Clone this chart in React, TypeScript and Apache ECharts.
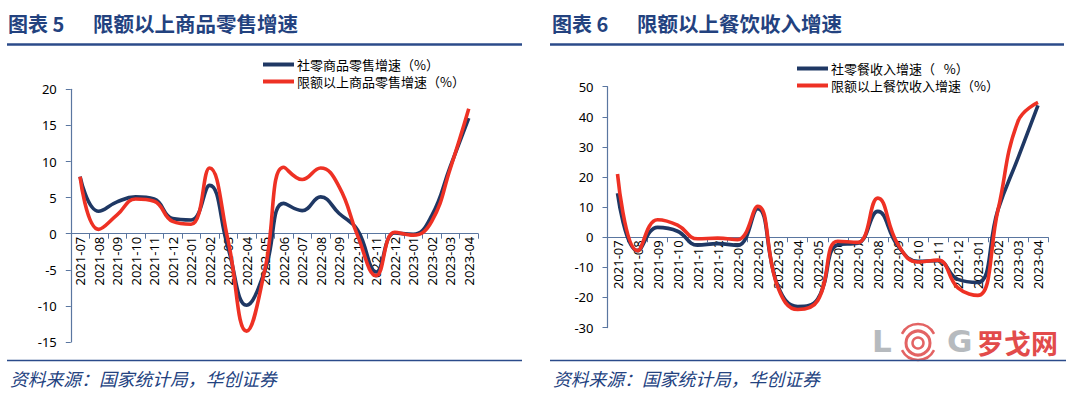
import React, { useEffect, useRef } from "react";
import * as echarts from "echarts";

const categories = [
  "2021-07", "2021-08", "2021-09", "2021-10", "2021-11", "2021-12",
  "2022-01", "2022-02", "2022-03", "2022-04", "2022-05", "2022-06",
  "2022-07", "2022-08", "2022-09", "2022-10", "2022-11", "2022-12",
  "2023-01", "2023-02", "2023-03", "2023-04",
];

const retailGoods = [7.9, 3.1, 4.4, 5.1, 4.8, 2.1, 1.9, 6.7, -2.0, -9.9, -5.0, 4.2, 3.2, 5.1, 2.8, 0.5, -5.3, 0.1, -0.1, 2.5, 9.3, 16.0];
const retailGoodsAbove = [7.9, 0.6, 2.6, 4.8, 4.5, 1.7, 1.3, 9.1, -1.0, -13.5, -4.8, 9.2, 7.5, 9.1, 6.5, -0.3, -5.8, 0.2, -0.2, 1.7, 9.0, 17.3];

const catering = [14.6, -4.5, 3.3, 2.0, -2.6, -2.1, -2.7, 9.5, -16.0, -23.0, -20.5, -2.5, -2.0, 8.6, -2.8, -8.0, -7.8, -14.0, -15.0, 9.1, 26.3, 43.8];
const cateringAbove = [21.0, -4.5, 5.8, 4.0, -0.5, -0.3, -0.8, 10.3, -16.5, -24.0, -21.0, -1.3, -1.7, 13.0, -2.3, -8.2, -7.6, -16.8, -19.3, 9.0, 38.5, 44.8];

const leftNames = ["社零商品零售增速（%）", "限额以上商品零售增速（%）"];
const rightNames = ["社零餐收入增速（   %）", "限额以上餐饮收入增速（%）"];

const NAVY = "#1F3864";
const RED = "#EE3124";
const AXIS = "#5A76A0";
const TITLE = "#23427F";
const FONT = '"Noto Sans", "Noto Sans CJK SC", sans-serif';
const CJK = '"Noto Sans CJK SC", sans-serif';
const LATIN = '"DejaVu Sans", "Liberation Sans", sans-serif';

export default function App() {
  const ref = useRef<HTMLDivElement>(null);

  useEffect(() => {
    if (!ref.current) return;
    const chart = echarts.init(ref.current, undefined, { renderer: "svg" });

    const yAxisBase = (min: number, max: number, interval: number, gridIndex: number) => ({
      type: "value" as const,
      gridIndex,
      min,
      max,
      interval,
      splitLine: { show: false },
      axisLine: { show: true, lineStyle: { color: AXIS, width: 1.2 } },
      axisTick: { show: true, length: 5, lineStyle: { color: AXIS } },
      axisLabel: { color: "#000", fontSize: 13, fontFamily: FONT, margin: 14 },
    });

    // offset places the category axis on the zero line of its value axis
    const xAxisBase = (gridIndex: number, offset: number) => ({
      type: "category" as const,
      gridIndex,
      data: categories,
      boundaryGap: true,
      position: "bottom" as const,
      offset,
      axisLine: { show: true, onZero: false, lineStyle: { color: AXIS, width: 1.2 } },
      axisTick: { show: true, length: 5, lineStyle: { color: AXIS } },
      axisLabel: { color: "#000", fontSize: 13, fontFamily: FONT, rotate: 90, margin: 3, interval: 0 },
    });

    const lineSeries = (name: string, data: number[], color: string, idx: number) => ({
      type: "line" as const,
      name,
      data,
      xAxisIndex: idx,
      yAxisIndex: idx,
      smooth: 0.45,
      symbol: "none",
      color,
      lineStyle: { color, width: 3.6 },
      z: color === RED ? 3 : 2,
    });

    const legendBase = (names: string[], left: number, top: number) => ({
      data: names,
      orient: "vertical" as const,
      left,
      top,
      icon: "rect",
      itemWidth: 31,
      itemHeight: 4,
      itemGap: 4,
      padding: 0,
      textStyle: { color: "#000", fontSize: 13, fontFamily: CJK, padding: [0, 0, 0, -2] },
    });

    const txt = (text: string, x: number, y: number, fill: string, size: number, family: string, weight = "normal", style = "normal") => ({
      type: "text",
      x,
      y,
      style: { text, fill, fontSize: size, fontFamily: family, fontWeight: weight, fontStyle: style, verticalAlign: "middle", align: "left" },
    });

    const WM_RED = "#E36363";
    const WM_GRAY = "#B6BABE";
    const watermark = [
      txt("L", 872, 341, WM_GRAY, 31, LATIN, "bold"),
      { type: "arc", shape: { cx: 918, cy: 342, r: 18, startAngle: Math.PI * 1.15, endAngle: Math.PI * 1.85 }, style: { stroke: WM_RED, lineWidth: 2.5, fill: "none" } },
      { type: "arc", shape: { cx: 918, cy: 342, r: 18, startAngle: Math.PI * 0.15, endAngle: Math.PI * 0.85 }, style: { stroke: WM_RED, lineWidth: 2.5, fill: "none" } },
      { type: "circle", shape: { cx: 918, cy: 343, r: 12 }, style: { stroke: WM_RED, lineWidth: 3, fill: "none" } },
      { type: "circle", shape: { cx: 918, cy: 343, r: 5.5 }, style: { stroke: WM_RED, lineWidth: 2.5, fill: "none" } },
      txt("G", 947, 341, WM_GRAY, 31, LATIN, "bold"),
      txt("罗戈网", 977, 342, "#E24B4B", 27, CJK, "bold"),
    ];

    const graphics: any[] = [
      txt("图表 5", 8, 23, TITLE, 20, CJK, "bold"),
      txt("限额以上商品零售增速", 93, 23, TITLE, 20.5, CJK, "bold"),
      txt("图表 6", 552, 23, TITLE, 20, CJK, "bold"),
      txt("限额以上餐饮收入增速", 637, 23, TITLE, 20.5, CJK, "bold"),
      { type: "line", shape: { x1: 7, y1: 44.5, x2: 522, y2: 44.5 }, style: { stroke: "#2B4B8A", lineWidth: 2.5 } },
      { type: "line", shape: { x1: 550, y1: 44.5, x2: 1064, y2: 44.5 }, style: { stroke: "#2B4B8A", lineWidth: 2.5 } },
      ...watermark,
      { type: "line", shape: { x1: 7, y1: 360.5, x2: 522, y2: 360.5 }, style: { stroke: "#2B4B8A", lineWidth: 1.5 } },
      { type: "line", shape: { x1: 550, y1: 360.5, x2: 1066, y2: 360.5 }, style: { stroke: "#2B4B8A", lineWidth: 1.5 } },
      txt("资料来源：国家统计局，华创证券", 10, 378, TITLE, 17.8, CJK, "normal", "italic"),
      txt("资料来源：国家统计局，华创证券", 553, 378, TITLE, 17.8, CJK, "normal", "italic"),
    ];

    const leftTop = 89.3, leftBottom = 54;
    const rightTop = 86.7, rightBottom = 68.4;
    const leftH = 396 - leftTop - leftBottom;
    const rightH = 396 - rightTop - rightBottom;
    const leftOffset = -leftH * (15 / 35);
    const rightOffset = -rightH * (30 / 80);

    chart.setOption({
      animation: false,
      backgroundColor: "#fff",
      grid: [
        { left: 70.8, right: 602, top: leftTop, bottom: leftBottom, containLabel: false },
        { left: 607.5, right: 32, top: rightTop, bottom: rightBottom, containLabel: false },
      ],
      xAxis: [xAxisBase(0, leftOffset), xAxisBase(1, rightOffset)],
      yAxis: [yAxisBase(-15, 20, 5, 0), yAxisBase(-30, 50, 10, 1)],
      legend: [legendBase(leftNames, 263, 58), legendBase(rightNames, 797, 62)],
      series: [
        lineSeries(leftNames[0], retailGoods, NAVY, 0),
        lineSeries(leftNames[1], retailGoodsAbove, RED, 0),
        lineSeries(rightNames[0], catering, NAVY, 1),
        lineSeries(rightNames[1], cateringAbove, RED, 1),
      ],
      graphic: graphics,
    });

    return () => chart.dispose();
  }, []);

  return (
    <div
      ref={ref}
      style={{ position: "fixed", left: 0, top: 0, width: 1080, height: 396, background: "#fff" }}
    />
  );
}
